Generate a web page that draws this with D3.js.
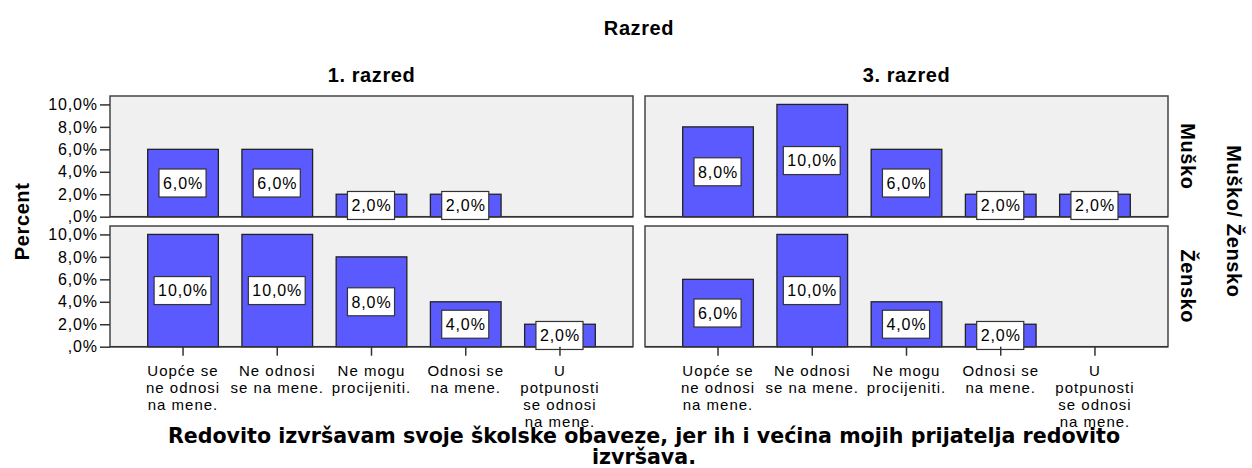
<!DOCTYPE html>
<html lang="hr">
<head>
<meta charset="UTF-8">
<title>Razred</title>
<script src="https://d3js.org/d3.v7.min.js"></script>
<style>
    body { margin: 0; background: #fff; }
    svg { display: block; }
    text { font-family: "Liberation Sans", Arial, sans-serif; fill: #000; }
    .tick-label { font-size: 16px; letter-spacing: 0.9px; }
    .cat-label { font-size: 15px; letter-spacing: 1px; }
    .val-label { font-size: 16px; letter-spacing: 0.9px; }
    .title { font-size: 20px; font-weight: bold; letter-spacing: 0.6px; }
    .xtitle { font-family: "DejaVu Sans", sans-serif; font-size: 20.6px; font-weight: bold; }
</style>
</head>
<body>
<svg id="chart" width="1252" height="468"></svg>
<script>
// data
const categories = ["Uopće se ne odnosi na mene.", "Ne odnosi se na mene.", "Ne mogu procijeniti.", "Odnosi se na mene.", "U potpunosti se odnosi na mene."];
const categoryLines = [
    ["Uopće se", "ne odnosi", "na mene."],
    ["Ne odnosi", "se na mene."],
    ["Ne mogu", "procijeniti."],
    ["Odnosi se", "na mene."],
    ["U", "potpunosti", "se odnosi", "na mene."]
];
const grades = ["1. razred", "3. razred"];
const genders = ["Muško", "Žensko"];
const musko1 = [6, 6, 2, 2, 0];
const musko3 = [8, 10, 6, 2, 2];
const zensko1 = [10, 10, 8, 4, 2];
const zensko3 = [6, 10, 4, 2, 0];
const yTicks = [0, 2, 4, 6, 8, 10];

const values = { "Muško": [musko1, musko3], "Žensko": [zensko1, zensko3] };

const svg = d3.select("#chart");

const colX = [110, 645];
const panelW = 523;
const rowY = [96, 226];
const panelH = 120.7;

const x = d3.scaleBand().domain(categories).range([0, panelW]).paddingInner(0.25).paddingOuter(0.4);
const y = d3.scaleLinear().domain([0, 10.75]).range([panelH, 0]);
const fmt = d => d === 0 ? ",0%" : d.toFixed(1).replace(".", ",") + "%";

// titles
svg.append("text").attr("class", "title").attr("x", 639).attr("y", 35).attr("text-anchor", "middle").text("Razred");
grades.forEach((g, ci) => {
    svg.append("text").attr("class", "title")
        .attr("x", colX[ci] + panelW / 2).attr("y", 82)
        .attr("text-anchor", "middle").text(g);
});

genders.forEach((gen, ri) => {
    grades.forEach((g, ci) => {
        const p = svg.append("g").attr("transform", `translate(${colX[ci]},${rowY[ri]})`);
        p.append("rect").attr("width", panelW).attr("height", panelH)
            .attr("fill", "#f0f0f0").attr("stroke", "#444").attr("stroke-width", 1.5);

        const data = categories.map((c, i) => ({ c: c, v: values[gen][ci][i] })).filter(d => d.v > 0);

        p.selectAll(".bar").data(data).enter().append("rect")
            .attr("class", "bar")
            .attr("x", d => x(d.c)).attr("width", x.bandwidth())
            .attr("y", d => y(d.v)).attr("height", d => y(0) - y(d.v))
            .attr("fill", "#5a5aff").attr("stroke", "#222").attr("stroke-width", 1.3);

        // baseline
        p.append("line").attr("x1", 0).attr("x2", panelW).attr("y1", panelH).attr("y2", panelH)
            .attr("stroke", "#333").attr("stroke-width", 1.6);

        const lab = p.selectAll(".lab").data(data).enter().append("g")
            .attr("transform", d => `translate(${x(d.c) + x.bandwidth() / 2},${(y(d.v) + y(0)) / 2})`);
        lab.append("text").attr("class", "val-label").attr("text-anchor", "middle")
            .attr("dy", "0.36em").text(d => fmt(d.v))
            .each(function () {
                const b = this.getBBox();
                d3.select(this.parentNode).insert("rect", "text")
                    .attr("x", b.x - 4).attr("y", -14).attr("width", b.width + 7).attr("height", 28)
                    .attr("fill", "#fff").attr("stroke", "#333").attr("stroke-width", 1.2);
            });

        if (ci === 0) {
            const ax = p.append("g").call(d3.axisLeft(y).tickValues(yTicks).tickFormat(fmt).tickSize(10).tickPadding(2));
            ax.select(".domain").remove();
            ax.selectAll("line").attr("stroke", "#333").attr("stroke-width", 1.5);
            ax.selectAll("text").attr("class", "tick-label").attr("font-size", null).attr("font-family", null);
        }

        if (ri === 1) {
            const bx = p.append("g").attr("transform", `translate(0,${panelH})`)
                .call(d3.axisBottom(x).tickSize(9).tickFormat(""));
            bx.select(".domain").remove();
            bx.selectAll("line").attr("stroke", "#333").attr("stroke-width", 1.5);
            categories.forEach((c, i) => {
                const t = p.append("text").attr("class", "cat-label").attr("text-anchor", "middle")
                    .attr("x", x(c) + x.bandwidth() / 2).attr("y", panelH + 29);
                categoryLines[i].forEach((ln, k) => {
                    t.append("tspan").attr("x", x(c) + x.bandwidth() / 2).attr("dy", k === 0 ? 0 : 17).text(ln);
                });
            });
        }
    });
    // row label
    svg.append("text").attr("class", "title")
        .attr("transform", `translate(1181,${rowY[ri] + panelH / 2}) rotate(90)`)
        .attr("text-anchor", "middle").text(gen);
});

svg.append("text").attr("class", "title")
    .attr("transform", `translate(1227,${(rowY[0] + rowY[1] + panelH) / 2}) rotate(90)`)
    .attr("text-anchor", "middle").text("Muško/ Žensko");

svg.append("text").attr("class", "title")
    .attr("transform", `translate(29,${(rowY[0] + rowY[1] + panelH) / 2}) rotate(-90)`)
    .attr("text-anchor", "middle").text("Percent");

const xt = svg.append("text").attr("class", "xtitle").attr("text-anchor", "middle");
xt.append("tspan").attr("x", 644).attr("y", 443).text("Redovito izvršavam svoje školske obaveze, jer ih i većina mojih prijatelja redovito");
xt.append("tspan").attr("x", 644).attr("y", 464).text("izvršava.");
</script>
</body>
</html>
